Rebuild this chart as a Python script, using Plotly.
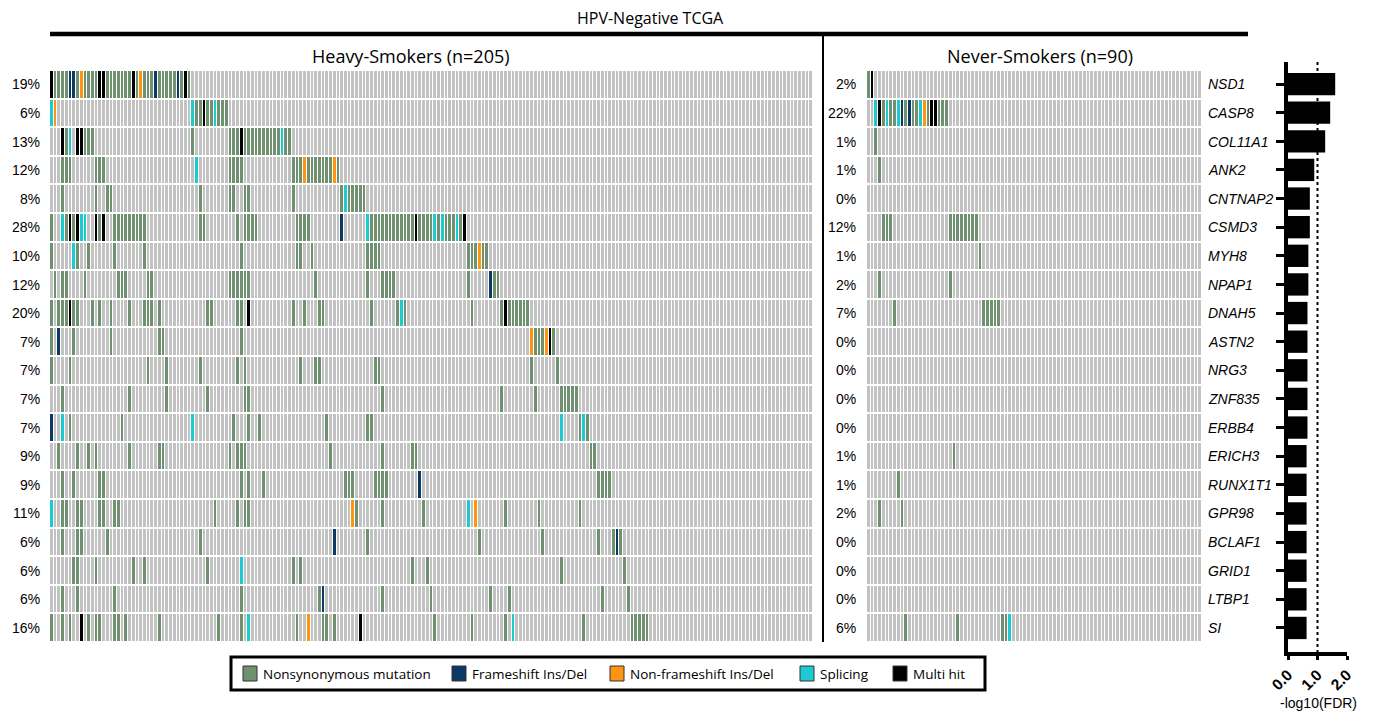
import plotly.graph_objects as go

W, H = 1376, 721
OFF = 8  # page body margin of the rendered html

genes = ["NSD1", "CASP8", "COL11A1", "ANK2", "CNTNAP2", "CSMD3", "MYH8", "NPAP1", "DNAH5", "ASTN2",
         "NRG3", "ZNF835", "ERBB4", "ERICH3", "RUNX1T1", "GPR98", "BCLAF1", "GRID1", "LTBP1", "SI"]
pct_heavy = [19, 6, 13, 12, 8, 28, 10, 12, 20, 7, 7, 7, 7, 9, 9, 11, 6, 6, 6, 16]
pct_never = [2, 22, 1, 1, 0, 12, 1, 2, 7, 0, 0, 0, 0, 1, 1, 2, 0, 0, 0, 6]
neglog_fdr = [1.60, 1.43, 1.26, 0.89, 0.74, 0.74, 0.69, 0.69, 0.66, 0.66,
              0.66, 0.66, 0.66, 0.63, 0.63, 0.63, 0.63, 0.63, 0.63, 0.63]
n_heavy, n_never = 205, 90

# mutation events per sample (code + sample index or index range); later tokens override earlier
# N nonsynonymous, F frameshift, I non-frameshift, S splicing, M multi hit
heavy_events = {
    "NSD1": "N0-37 M0 F5-6 I8 M13-14 M22 I24 F28 F34 M36",
    "CASP8": "S0 I1 N38-47 S38 M41 S44",
    "COL11A1": "M3 N4 S5 M7-8 N9-11 N38 N48-64 M51 S62",
    "ANK2": "N3-5 N12-14 S39 N48-51 N65-77 I68 I76",
    "CNTNAP2": "N3 N12 N15-16 N40 N48-49 N52-53 N65 N78-84 S79",
    "CSMD3": "N0 S3 N4 M5 N6 M7 S8-9 M12 N13 M14 N17-25 N40-41 N50 N52-55 N66-69 F78 S85 N86-111 M98 S103 S105 S109 M111",
    "MYH8": "N0 S6 N7 N10 N17 N25 N51 N66-67 N70 N85-88 N112-117 I115",
    "NPAP1": "N1 N3-4 N9 N18-20 N26-27 N48-53 N71 N85 N89-92 N112 F118 N119-120",
    "DNAH5": "N0 N2-4 M5 N6-7 N11 N13 N16 N21 N25-27 N29 N42-43 N50-51 M53 N65 N68 N72-73 N86 N93 S94 N95 N113 N121-128 M122",
    "ASTN2": "N0 F2 N6 N16 N29-30 N51 I129 N130-132 I133 M134 N135",
    "NRG3": "N0 N5 N26 N31 N40 N50 N52 N67 N71-72 N87-88 N129 N136",
    "ZNF835": "N3 N21 N31 N42 N52-53 N89 N121 N130 N137-141",
    "ERBB4": "F0 S3 N5 N19 S38 N49 N53 N56 N74 N85-86 S137 N142 S143 N144",
    "ERICH3": "N2 N7 N10 N12 N21 N29-30 N48 N50-52 N75 N89 N97-98 N145-146",
    "RUNX1T1": "N3 N6 N13-14 N51 N53 N57 N79-81 N87-90 F99 N147-150",
    "GPR98": "S0 N3-4 N7-8 N13-14 N17-18 N44 N50 N52-53 I81 N82 N89 N100 S112 I114 N122 N131 N142",
    "BCLAF1": "N3 N7-8 N15 N40 F76 N85 N115 N132 N147 N151 F152 N153",
    "GRID1": "N6-7 N12 N22 N25 N42 S51 N65 N67 N97 N101 N137 N154",
    "LTBP1": "N3 N7 N17 N51 N72 F73 N89 N102 N118 N123 N148 N155",
    "SI": "N0 N3 N5 M8 N10 N12-13 N17-18 N20 N29 N45 N51 S53 N66 I69 N73-74 N76 M83 N103 N113 N122 S124 N143 N156-160",
}
never_events = {
    "NSD1": "N0 M1",
    "CASP8": "N2-21 S2 M3 S5 S8 F9 F11 S14 I15 M17-18",
    "COL11A1": "N2",
    "ANK2": "N3",
    "CSMD3": "N4-6 N22-29",
    "MYH8": "N30",
    "NPAP1": "N3 N22",
    "DNAH5": "N7 N31-35",
    "ERICH3": "N23",
    "RUNX1T1": "N8",
    "GPR98": "N3 N9",
    "SI": "N10 N24 N36-37 S38",
}

mut_names = ["Nonsynonymous mutation", "Frameshift Ins/Del", "Non-frameshift Ins/Del", "Splicing", "Multi hit"]
mut_codes = ["N", "F", "I", "S", "M"]
mut_colors = ["#6f9170", "#0c3866", "#ff9410", "#1ccbd0", "#000000"]
none_color = "#c2c2c2"


def build_matrix(events, n):
    z = []
    for g in genes:
        row = [0] * n
        for tok in events.get(g, "").split():
            code, rng = tok[0], tok[1:]
            a, _, b = rng.partition("-")
            a = int(a)
            b = int(b) if b else a
            for k in range(a, b + 1):
                row[k] = mut_codes.index(code) + 1
        z.append(row)
    return z


z_heavy = build_matrix(heavy_events, n_heavy)
z_never = build_matrix(never_events, n_never)

all_colors = [none_color] + mut_colors
cscale = []
for i, c in enumerate(all_colors):
    cscale.append([i / len(all_colors), c])
    cscale.append([(i + 1) / len(all_colors), c])

FW, FH = W - 2 * OFF, H - 2 * OFF


def px(x):
    return (x - OFF) / FW


def py(y):
    return 1 - (y - OFF) / FH


fig = go.Figure()
common = dict(colorscale=cscale, zmin=-0.5, zmax=len(all_colors) - 0.5, showscale=False,
              xgap=1, ygap=2, hoverinfo="skip")
fig.add_trace(go.Heatmap(z=z_heavy, x=list(range(n_heavy)), y=list(range(len(genes))),
                         xaxis="x", yaxis="y", **common))
fig.add_trace(go.Heatmap(z=z_never, x=list(range(n_never)), y=list(range(len(genes))),
                         xaxis="x2", yaxis="y2", **common))
fig.add_trace(go.Bar(x=neglog_fdr, y=list(range(len(genes))), orientation="h",
                     marker=dict(color="black", line=dict(width=0)), width=0.78,
                     xaxis="x3", yaxis="y3", hoverinfo="skip"))

row_top, row_bot = 70, 642
hidden = dict(showgrid=False, zeroline=False, showticklabels=False, ticks="", showline=False,
              fixedrange=True, automargin=False)
fig.update_layout(
    width=FW, height=FH, margin=dict(l=0, r=0, t=0, b=0, pad=0, autoexpand=False),
    paper_bgcolor="white", plot_bgcolor="white", showlegend=False,
    xaxis=dict(domain=[px(50), px(813)], range=[-0.5, n_heavy - 0.5], **hidden),
    yaxis=dict(domain=[py(row_bot), py(row_top)], range=[len(genes) - 0.5, -0.5], **hidden),
    xaxis2=dict(domain=[px(867), px(1202)], range=[-0.5, n_never - 0.5], anchor="y2", **hidden),
    yaxis2=dict(domain=[py(row_bot), py(row_top)], range=[len(genes) - 0.5, -0.5], anchor="x2", **hidden),
    xaxis3=dict(domain=[px(1288), px(1347)], range=[0, 2], anchor="y3", automargin=False,
                tickvals=[0, 1, 2], ticktext=["<b>0.0</b>", "<b>1.0</b>", "<b>2.0</b>"],
                tickangle=-45, ticks="outside", ticklen=4, tickwidth=3, tickcolor="black",
                showline=True, linewidth=3.5, linecolor="black", showgrid=False, zeroline=False,
                tickfont=dict(family="Liberation Sans", size=15.5, color="black"), fixedrange=True),
    yaxis3=dict(domain=[py(652), py(62)], range=[19.84, -0.77], anchor="x3", automargin=False,
                tickvals=list(range(len(genes))), ticktext=[""] * len(genes),
                ticks="outside", ticklen=8, tickwidth=3, tickcolor="black",
                showline=True, linewidth=3.5, linecolor="black", showgrid=False, zeroline=False,
                fixedrange=True),
)

# dotted significance line
fig.add_shape(type="line", xref="x3", yref="y3", x0=1, x1=1, y0=-0.77, y1=19.84,
              line=dict(color="black", width=2, dash="dot"))

# header lines
fig.add_shape(type="line", xref="paper", yref="paper", x0=px(50), x1=px(1248), y0=py(34), y1=py(34),
              line=dict(color="black", width=4.5))
fig.add_shape(type="line", xref="paper", yref="paper", x0=px(823), x1=px(823), y0=py(34), y1=py(642),
              line=dict(color="black", width=2))

title_font = dict(family="Open Sans", color="black")


def note(x, y, text, font, xanchor="center", yref="paper"):
    fig.add_annotation(x=px(x), y=(py(y) if yref == "paper" else y), xref="paper", yref=yref,
                       text=text, showarrow=False, xanchor=xanchor, yanchor="middle", font=font)


note(650, 18, "HPV-Negative TCGA", dict(size=16, **title_font))
note(411, 56, "Heavy-Smokers (n=205)", dict(size=18, **title_font))
note(1040, 56, "Never-Smokers (n=90)", dict(size=18, **title_font))

lab_font = dict(family="Liberation Sans", size=14, color="black")
for i, g in enumerate(genes):
    note(42, i, f"{pct_heavy[i]}%", lab_font, xanchor="right", yref="y")
    note(858, i, f"{pct_never[i]}%", lab_font, xanchor="right", yref="y")
    note(1206, i, f"<i>{g}</i>", lab_font, xanchor="left", yref="y")

note(1318, 703, "-log10(FDR)", dict(family="Liberation Sans", size=14, color="black"))

# legend box
fig.add_shape(type="rect", xref="paper", yref="paper", x0=px(231), x1=px(985), y0=py(657), y1=py(690),
              line=dict(color="black", width=3), fillcolor="white")
sw_x = [243, 452, 610, 800, 893]
for name, col, sx in zip(mut_names, mut_colors, sw_x):
    fig.add_shape(type="rect", xref="paper", yref="paper", x0=px(sx), x1=px(sx + 14),
                  y0=py(666), y1=py(681), line=dict(color="#333333", width=1), fillcolor=col)
    note(sx + 18, 673.5, name, dict(family="Open Sans", size=13.5, color="black"), xanchor="left")

fig.write_html("out.html")
